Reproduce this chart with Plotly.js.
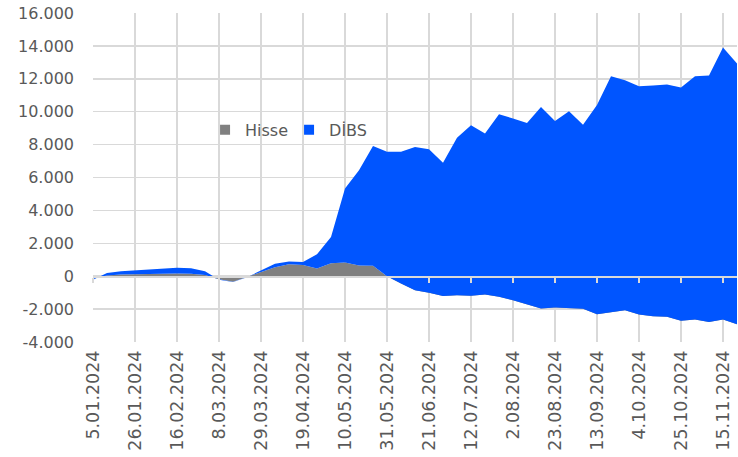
<!DOCTYPE html>
<html>
<head>
<meta charset="utf-8">
<script src="https://cdn.plot.ly/plotly-3.0.1.min.js"></script>
<style>html,body{margin:0;padding:0;background:#fff;}#chart{width:738px;height:457px;}</style>
</head>
<body>
<div id="chart"></div>
<script>
// Weekly dates (Fridays) 5.01.2024 – 22.11.2024
const dates = [
 '2024-01-05','2024-01-12','2024-01-19','2024-01-26','2024-02-02','2024-02-09','2024-02-16','2024-02-23',
 '2024-03-01','2024-03-08','2024-03-15','2024-03-22','2024-03-29','2024-04-05','2024-04-12','2024-04-19',
 '2024-04-26','2024-05-03','2024-05-10','2024-05-17','2024-05-24','2024-05-31','2024-06-07','2024-06-14',
 '2024-06-21','2024-06-28','2024-07-05','2024-07-12','2024-07-19','2024-07-26','2024-08-02','2024-08-09',
 '2024-08-16','2024-08-23','2024-08-30','2024-09-06','2024-09-13','2024-09-20','2024-09-27','2024-10-04',
 '2024-10-11','2024-10-18','2024-10-25','2024-11-01','2024-11-08','2024-11-15','2024-11-22'
];
const hisse = [
 -140, 50, 100, 120, 150, 170, 170, 150,
 80, -180, -330, -50, 250, 550, 730, 680,
 470, 780, 840, 650, 630, 0, -450, -850,
 -1010, -1200, -1155, -1195, -1115, -1255, -1460, -1700,
 -1965, -1905, -1925, -1985, -2310, -2210, -2070, -2330,
 -2430, -2470, -2710, -2630, -2780, -2630, -2920
];
const dibs = [
 -80, 150, 200, 230, 280, 320, 350, 330,
 220, -30, -30, -10, 100, 200, 170, 190,
 870, 1610, 4490, 5790, 7290, 7560, 8010, 8710,
 8730, 8090, 9565, 10375, 9785, 11105, 11050, 11020,
 12255, 11345, 11955, 11185, 12710, 14370, 13980, 13880,
 14020, 14120, 14180, 14790, 14980, 16530, 15850
];
const seriesNames = ['Hisse', 'DİBS'];
const xTickVals = ['2024-01-05','2024-01-26','2024-02-16','2024-03-08','2024-03-29','2024-04-19','2024-05-10','2024-05-31',
 '2024-06-21','2024-07-12','2024-08-02','2024-08-23','2024-09-13','2024-10-04','2024-10-25','2024-11-15'];
const xTickText = ['5.01.2024','26.01.2024','16.02.2024','8.03.2024','29.03.2024','19.04.2024','10.05.2024','31.05.2024',
 '21.06.2024','12.07.2024','2.08.2024','23.08.2024','13.09.2024','4.10.2024','25.10.2024','15.11.2024'];
const yTickVals = [-4000,-2000,0,2000,4000,6000,8000,10000,12000,14000,16000];
const yTickText = ['-4.000','-2.000','0','2.000','4.000','6.000','8.000','10.000','12.000','14.000','16.000'];

const GRAY = '#808080', BLUE = '#0055ff', TXT = '#595959', GRID = '#d9d9d9';
const FONT = 'DejaVu Sans, sans-serif';

const traces = [
 {x: dates, y: hisse, name: seriesNames[0], type: 'scatter', mode: 'lines', stackgroup: 'one',
  line: {width: 0, color: GRAY}, fillcolor: GRAY, showlegend: false, hoverinfo: 'skip'},
 {x: dates, y: dibs, name: seriesNames[1], type: 'scatter', mode: 'lines', stackgroup: 'one',
  line: {width: 0, color: BLUE}, fillcolor: BLUE, showlegend: false, hoverinfo: 'skip'},
 {x: [null], y: [null], name: seriesNames[0], type: 'scatter', mode: 'markers', xaxis: 'x2',
  marker: {symbol: 'square', size: 10, color: GRAY}, showlegend: true},
 {x: [null], y: [null], name: seriesNames[1], type: 'scatter', mode: 'markers', xaxis: 'x2',
  marker: {symbol: 'square', size: 10, color: BLUE}, showlegend: true}
];

const layout = {
 width: 738, height: 457,
 margin: {l: 93, r: 1, t: 13, b: 115, pad: 0},
 paper_bgcolor: '#ffffff', plot_bgcolor: '#ffffff',
 font: {family: FONT, size: 16, color: TXT},
 showlegend: true,
 legend: {orientation: 'h', traceorder: 'normal', x: 0.174, xanchor: 'left', y: 0.645, yanchor: 'middle',
  font: {family: FONT, size: 16, color: TXT}, bgcolor: 'rgba(0,0,0,0)', itemwidth: 30, tracegroupgap: 0,
  entrywidth: 39},
 xaxis: {type: 'date', range: ['2024-01-05','2024-11-22'], tickmode: 'array', tickvals: xTickVals, ticktext: xTickText,
  tickangle: -90, showgrid: true, gridcolor: GRID, gridwidth: 1.5, zeroline: false, showline: false,
  ticks: '', tickfont: {family: FONT, size: 17.5, color: TXT}, ticklabelstandoff: 4},
 xaxis2: {type: 'date', overlaying: 'x', anchor: 'free', position: 0.2, side: 'bottom',
  range: ['2024-01-05','2024-11-22'], tickmode: 'array', tickvals: xTickVals, showticklabels: false,
  ticks: 'outside', ticklen: 5, tickwidth: 1.5, tickcolor: GRID, showline: true, linecolor: GRID, linewidth: 1.5,
  showgrid: false, zeroline: false, layer: 'above traces'},
 yaxis: {range: [-4000, 16000], tickmode: 'array', tickvals: yTickVals, ticktext: yTickText,
  showgrid: true, gridcolor: GRID, gridwidth: 1.5, zeroline: false, showline: false, ticks: '',
  tickfont: {family: FONT, size: 16, color: TXT}, ticklabelstandoff: 18}
};

Plotly.newPlot('chart', traces, layout, {staticPlot: true, displayModeBar: false});
</script>
</body>
</html>
